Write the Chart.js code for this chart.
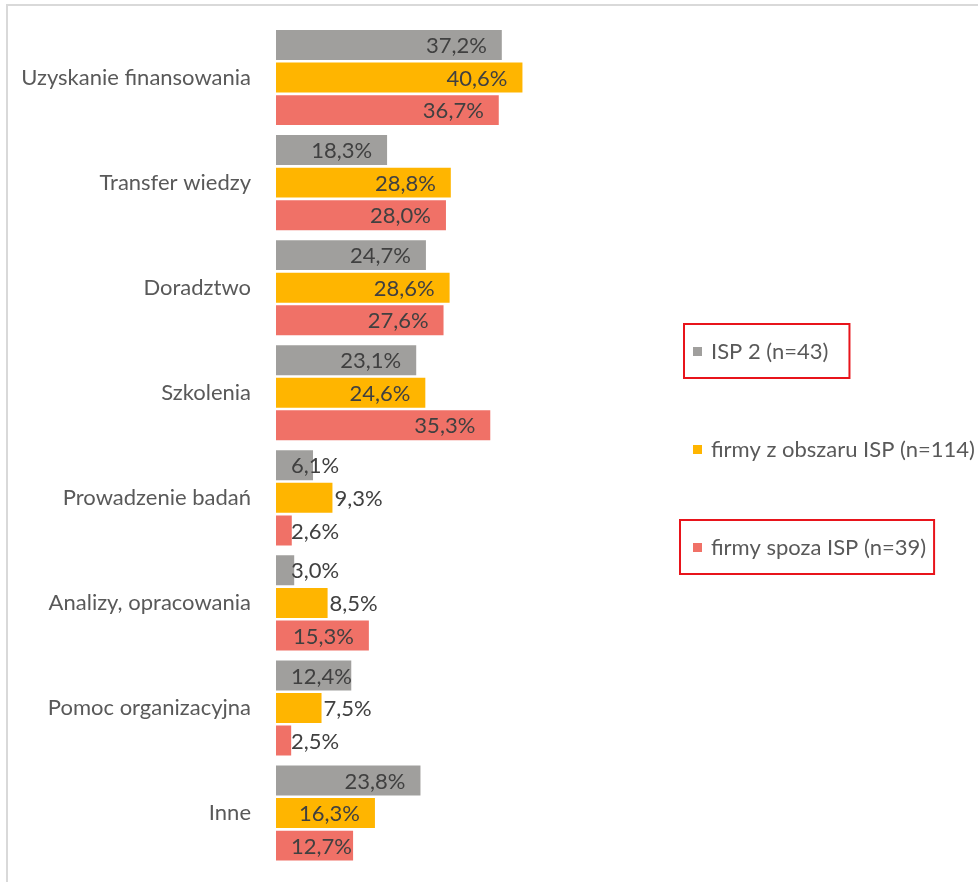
<!DOCTYPE html>
<html><head><meta charset="utf-8">
<script src="https://cdn.jsdelivr.net/npm/chart.js@4.4.1/dist/chart.umd.min.js"></script>
<style>html,body{margin:0;padding:0;background:#fff;overflow:hidden;} #wrap{position:relative;width:978px;height:882px;}</style>
</head><body><div id="wrap"><canvas id="c"></canvas></div>
<script>
const categories = ['Uzyskanie finansowania','Transfer wiedzy','Doradztwo','Szkolenia','Prowadzenie badań','Analizy, opracowania','Pomoc organizacyjna','Inne'];
const seriesNames = ['ISP 2 (n=43)','firmy z obszaru ISP (n=114)','firmy spoza ISP (n=39)'];
const isp2 = [37.2,18.3,24.7,23.1,6.1,3.0,12.4,23.8];
const firmyObszar = [40.6,28.8,28.6,24.6,9.3,8.5,7.5,16.3];
const firmySpoza = [36.7,28.0,27.6,35.3,2.6,15.3,2.5,12.7];
const highlightedSeries = [true,false,true];

const FONT = 'Lato, "Noto Sans", sans-serif';
const FS = 22;
const colors = ['#A09F9D','#FFB500','#F07167'];
const fallbacks = ['start','outside','start'];

const fmt = v => v.toFixed(1).replace('.', ',') + '%';

const frame = {
  id:'frame',
  beforeDraw(chart){
    const ctx = chart.ctx; ctx.save();
    ctx.fillStyle = '#fff'; ctx.fillRect(0,0,chart.width,chart.height);
    ctx.strokeStyle = '#D9D9D9'; ctx.lineWidth = 2;
    ctx.beginPath(); ctx.moveTo(7, 882); ctx.lineTo(7, 5); ctx.lineTo(978, 5); ctx.stroke();
    ctx.restore();
  }
};

const barLabels = {
  id:'barLabels',
  afterDatasetsDraw(chart){
    const ctx = chart.ctx; ctx.save();
    ctx.font = FS + 'px ' + FONT; ctx.fillStyle = '#404040'; ctx.textBaseline = 'middle';
    chart.data.datasets.forEach((ds, di) => {
      const meta = chart.getDatasetMeta(di);
      meta.data.forEach((el, i) => {
        const t = fmt(ds.data[i]);
        const w = ctx.measureText(t).width;
        const end = el.x, base = el.base;
        let x;
        if (end - 15 - w >= base + 15) x = end - 15 - w;
        else if (fallbacks[di] === 'outside') x = end + 2;
        else x = base + 15;
        ctx.textAlign = 'left';
        ctx.fillText(t, x, el.y + 1);
      });
    });
    ctx.restore();
  }
};

const legendPlugin = {
  id:'customLegend',
  afterDraw(chart){
    const ctx = chart.ctx; ctx.save();
    ctx.font = FS + 'px ' + FONT; ctx.textBaseline = 'middle';
    chart.data.datasets.forEach((ds, i) => {
      const cy = 351 + i * 98;
      ctx.fillStyle = ds.backgroundColor;
      ctx.fillRect(693, cy - 4, 9, 9);
      ctx.fillStyle = '#595959'; ctx.textAlign = 'left';
      ctx.fillText(ds.label, 711, cy + 1);
      if (highlightedSeries[i]) {
        const w = ctx.measureText(ds.label).width;
        ctx.strokeStyle = '#E8141B'; ctx.lineWidth = 2;
        const left = i === 0 ? 684 : 680;
        const right = i === 0 ? 711 + w + 21 : 711 + w + 8;
        ctx.strokeRect(left, cy - 27, right - left, 54);
      }
    });
    ctx.restore();
  }
};

Chart.defaults.font.family = FONT;
new Chart(document.getElementById('c'), {
  type:'bar',
  data:{
    labels: categories,
    datasets:[
      {label: seriesNames[0], data: isp2, backgroundColor: colors[0]},
      {label: seriesNames[1], data: firmyObszar, backgroundColor: colors[1]},
      {label: seriesNames[2], data: firmySpoza, backgroundColor: colors[2]}
    ]
  },
  options:{
    indexAxis:'y',
    responsive:true, maintainAspectRatio:false, animation:false,
    devicePixelRatio:1,
    categoryPercentage:0.93, barPercentage:0.92,
    layout:{padding:{top:25, bottom:16.4, left:0, right:398.5}},
    plugins:{legend:{display:false}, tooltip:{enabled:false}},
    scales:{
      x:{display:false, min:0, max:50},
      y:{
        grid:{display:false, drawTicks:false, tickLength:0}, border:{display:false},
        ticks:{color:'#595959', font:{size:FS, family:FONT}, padding:25},
        afterFit(s){ s.width = 276; s.paddingTop = 0; s.paddingBottom = 0; }
      }
    }
  },
  plugins:[frame, barLabels, legendPlugin]
});
</script></body></html>
